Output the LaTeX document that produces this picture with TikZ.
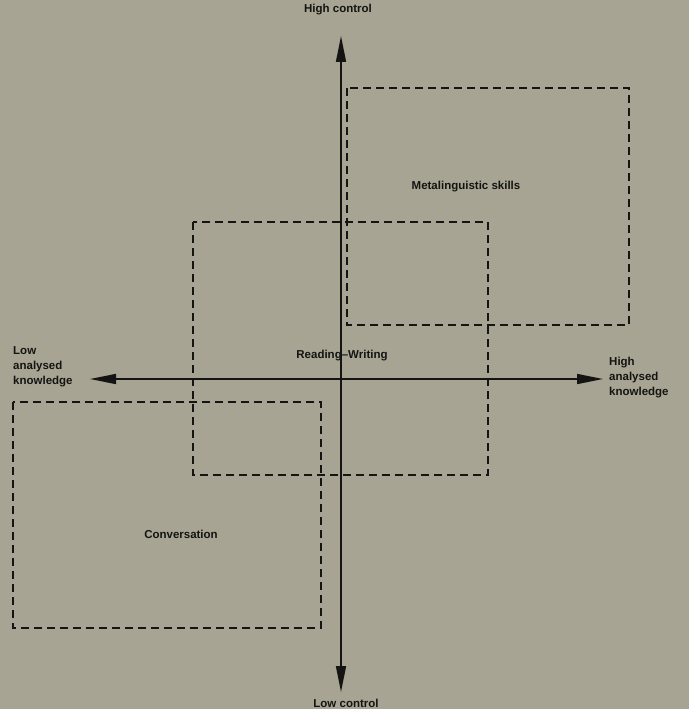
\documentclass[tikz,border=0pt]{standalone}
\usepackage{fontspec}
\setmainfont{Liberation Sans}
\usetikzlibrary{arrows.meta}
\definecolor{bg}{RGB}{168,164,147}
\definecolor{ink}{RGB}{20,20,18}
\begin{document}
\begin{tikzpicture}[x=1pt,y=-1pt,
  region/.style={draw=ink,line width=1.5pt,dash pattern=on 8pt off 5pt},
  axis/.style={draw=ink,line width=1.5pt,-{Triangle[length=26pt,width=10pt]}},
  lbl/.style={text=ink,font=\fontsize{11.5}{15}\selectfont\bfseries,inner sep=1pt},
  every node/.style={lbl}]
\fill[bg] (0,0) rectangle (689,709);
\useasboundingbox (0,0) rectangle (689,709);
% regions
\draw[region] (347,88) rectangle (629,325);
\draw[region] (193,222) rectangle (488,475);
\draw[region] (13,402) rectangle (321,628);
% axes
\coordinate (O) at (341,379);
\coordinate (T) at (341,36);
\coordinate (B) at (341,692);
\coordinate (L) at (90,379);
\coordinate (R) at (603,379);
\draw[axis] (O) -- (T);
\draw[axis] (O) -- (B);
\draw[axis] (O) -- (L);
\draw[axis] (O) -- (R);
% labels
\node (hc) at (338,10) {High control};
\node (lc) at (346,703) {Low control};
\node[align=left,anchor=west] (la) at (12,367) {Low\\analysed\\knowledge};
\node[align=left,anchor=west] (ha) at (608,378) {High\\analysed\\knowledge};
\node (ms) at (466,187) {Metalinguistic skills};
\node (rw) at (342,356) {Reading--Writing};
\node (cv) at (181,534) {Conversation};
\end{tikzpicture}
\end{document}
